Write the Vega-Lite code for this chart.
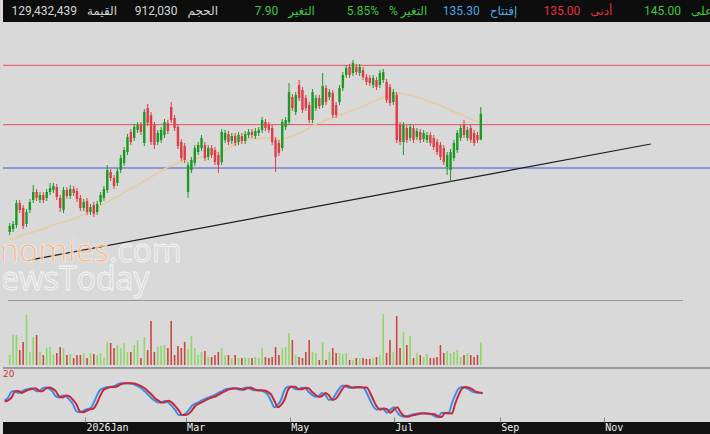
{
  "$schema": "https://vega.github.io/schema/vega-lite/v6.json",
  "background": "#d9d9d9",
  "padding": 0,
  "bounds": "flush",
  "spacing": 0,
  "config": {"view": {"stroke": null}, "axis": {"grid": false}},
  "datasets": {
    "hdr": [
      {"k": "1", "val": "129,432,439", "lab": "القيمة", "tone": "w"},
      {"k": "2", "val": "912,030", "lab": "الحجم", "tone": "w"},
      {"k": "3", "val": "7.90", "lab": "التغير", "tone": "g"},
      {"k": "4", "val": "5.85%", "lab": "% التغير", "tone": "g"},
      {"k": "5", "val": "135.30", "lab": "إفتتاح", "tone": "b"},
      {"k": "6", "val": "135.00", "lab": "أدنى", "tone": "r"},
      {"k": "7", "val": "145.00", "lab": "أعلى", "tone": "g"}
    ],
    "lv": [{"p": 157.5, "t": "r"}, {"p": 139.7, "t": "r"}, {"p": 126.7, "t": "b"}],
    "tr": [{"d1": "2025-11-26", "p1": 99.0, "d2": "2026-12-01", "p2": 133.9}],
    "bars": [
      {"d":"2025-11-15","o":107.5,"h":110.2,"l":106.6,"c":109.3,"v":400000,"ma":105.1,"k":48,"sd":45},
      {"d":"2025-11-17","o":108.4,"h":110.8,"l":107.5,"c":109.9,"v":1200000,"ma":105.4,"k":55,"sd":48},
      {"d":"2025-11-19","o":109.6,"h":117.1,"l":108.7,"c":116.2,"v":1200000,"ma":105.7,"k":70,"sd":55},
      {"d":"2025-11-21","o":116.2,"h":117.1,"l":113.2,"c":114.1,"v":600000,"ma":106.3,"k":72,"sd":70},
      {"d":"2025-11-23","o":114.7,"h":115.6,"l":108.4,"c":109.3,"v":920000,"ma":106.6,"k":67,"sd":72},
      {"d":"2025-11-25","o":109.9,"h":114.4,"l":109.0,"c":113.5,"v":2000000,"ma":106.9,"k":71,"sd":67},
      {"d":"2025-11-27","o":114.1,"h":117.4,"l":113.2,"c":116.5,"v":520000,"ma":107.2,"k":75,"sd":71},
      {"d":"2025-11-29","o":117.1,"h":121.6,"l":116.2,"c":119.5,"v":1120000,"ma":107.5,"k":77,"sd":75},
      {"d":"2025-12-01","o":119.5,"h":120.4,"l":116.8,"c":117.7,"v":1200000,"ma":107.8,"k":79,"sd":77},
      {"d":"2025-12-03","o":117.1,"h":119.5,"l":116.2,"c":118.6,"v":520000,"ma":108.1,"k":73,"sd":79},
      {"d":"2025-12-05","o":118.6,"h":119.5,"l":116.2,"c":117.1,"v":400000,"ma":108.4,"k":71,"sd":73},
      {"d":"2025-12-07","o":117.7,"h":120.4,"l":116.8,"c":119.5,"v":680000,"ma":108.7,"k":78,"sd":71},
      {"d":"2025-12-09","o":119.5,"h":122.2,"l":118.6,"c":120.7,"v":720000,"ma":109.3,"k":81,"sd":78},
      {"d":"2025-12-11","o":120.1,"h":122.2,"l":119.2,"c":121.3,"v":400000,"ma":109.6,"k":78,"sd":81},
      {"d":"2025-12-13","o":121.0,"h":121.9,"l":117.1,"c":118.0,"v":480000,"ma":109.9,"k":71,"sd":78},
      {"d":"2025-12-15","o":117.7,"h":118.6,"l":113.5,"c":114.7,"v":720000,"ma":110.2,"k":58,"sd":71},
      {"d":"2025-12-17","o":114.1,"h":121.0,"l":113.2,"c":120.1,"v":680000,"ma":110.5,"k":55,"sd":58},
      {"d":"2025-12-19","o":120.1,"h":121.0,"l":117.4,"c":118.3,"v":400000,"ma":110.8,"k":60,"sd":55},
      {"d":"2025-12-21","o":118.3,"h":121.6,"l":117.4,"c":120.4,"v":440000,"ma":111.0,"k":58,"sd":60},
      {"d":"2025-12-23","o":120.4,"h":121.3,"l":118.3,"c":119.2,"v":280000,"ma":111.4,"k":49,"sd":58},
      {"d":"2025-12-25","o":119.8,"h":120.7,"l":116.5,"c":117.4,"v":400000,"ma":111.7,"k":38,"sd":49},
      {"d":"2025-12-27","o":117.7,"h":118.6,"l":113.8,"c":114.7,"v":400000,"ma":112.3,"k":20,"sd":38},
      {"d":"2025-12-29","o":114.7,"h":117.4,"l":113.8,"c":116.5,"v":480000,"ma":112.6,"k":17,"sd":20},
      {"d":"2025-12-31","o":116.8,"h":117.7,"l":112.6,"c":113.5,"v":280000,"ma":113.2,"k":21,"sd":17},
      {"d":"2026-01-02","o":113.5,"h":115.9,"l":112.6,"c":115.0,"v":480000,"ma":113.8,"k":25,"sd":21},
      {"d":"2026-01-04","o":115.6,"h":116.5,"l":112.0,"c":112.9,"v":440000,"ma":114.1,"k":27,"sd":25},
      {"d":"2026-01-06","o":113.5,"h":116.8,"l":112.6,"c":115.9,"v":400000,"ma":114.7,"k":40,"sd":27},
      {"d":"2026-01-08","o":116.5,"h":119.5,"l":115.6,"c":118.6,"v":480000,"ma":115.3,"k":60,"sd":40},
      {"d":"2026-01-10","o":117.7,"h":121.3,"l":116.8,"c":120.4,"v":280000,"ma":115.9,"k":75,"sd":60},
      {"d":"2026-01-12","o":120.1,"h":127.6,"l":119.2,"c":126.1,"v":920000,"ma":116.5,"k":79,"sd":75},
      {"d":"2026-01-14","o":125.5,"h":126.4,"l":122.8,"c":123.7,"v":880000,"ma":117.1,"k":82,"sd":79},
      {"d":"2026-01-16","o":123.7,"h":124.6,"l":120.4,"c":121.3,"v":680000,"ma":117.7,"k":82,"sd":82},
      {"d":"2026-01-18","o":122.2,"h":126.7,"l":121.3,"c":125.8,"v":800000,"ma":118.0,"k":84,"sd":82},
      {"d":"2026-01-20","o":126.1,"h":130.6,"l":125.2,"c":129.7,"v":680000,"ma":118.6,"k":89,"sd":84},
      {"d":"2026-01-22","o":128.2,"h":133.0,"l":127.3,"c":132.1,"v":880000,"ma":119.5,"k":92,"sd":89},
      {"d":"2026-01-24","o":131.5,"h":136.9,"l":130.6,"c":136.0,"v":520000,"ma":120.1,"k":92,"sd":92},
      {"d":"2026-01-26","o":137.5,"h":138.4,"l":133.6,"c":134.5,"v":520000,"ma":120.4,"k":92,"sd":92},
      {"d":"2026-01-28","o":135.7,"h":139.9,"l":134.8,"c":139.0,"v":800000,"ma":121.0,"k":91,"sd":92},
      {"d":"2026-01-30","o":138.1,"h":140.5,"l":137.2,"c":139.6,"v":1000000,"ma":121.3,"k":88,"sd":91},
      {"d":"2026-02-01","o":139.6,"h":140.5,"l":136.6,"c":137.5,"v":280000,"ma":122.2,"k":84,"sd":88},
      {"d":"2026-02-03","o":134.2,"h":144.4,"l":133.3,"c":143.5,"v":1120000,"ma":122.8,"k":79,"sd":84},
      {"d":"2026-02-05","o":144.7,"h":145.9,"l":139.3,"c":140.2,"v":600000,"ma":123.4,"k":71,"sd":79},
      {"d":"2026-02-07","o":142.6,"h":143.5,"l":133.6,"c":134.5,"v":1760000,"ma":124.0,"k":63,"sd":71},
      {"d":"2026-02-09","o":139.6,"h":140.5,"l":132.4,"c":133.6,"v":520000,"ma":124.6,"k":53,"sd":63},
      {"d":"2026-02-11","o":134.5,"h":138.1,"l":133.6,"c":137.2,"v":720000,"ma":125.2,"k":47,"sd":53},
      {"d":"2026-02-13","o":135.1,"h":139.0,"l":134.2,"c":138.1,"v":760000,"ma":125.8,"k":42,"sd":47},
      {"d":"2026-02-15","o":136.6,"h":141.4,"l":135.7,"c":140.5,"v":800000,"ma":126.4,"k":43,"sd":42},
      {"d":"2026-02-17","o":140.2,"h":141.1,"l":136.9,"c":137.8,"v":680000,"ma":127.0,"k":47,"sd":43},
      {"d":"2026-02-19","o":145.0,"h":146.5,"l":140.2,"c":141.1,"v":1760000,"ma":127.3,"k":42,"sd":47},
      {"d":"2026-02-21","o":141.7,"h":142.6,"l":137.8,"c":138.7,"v":400000,"ma":127.9,"k":33,"sd":42},
      {"d":"2026-02-23","o":139.0,"h":139.9,"l":132.4,"c":133.3,"v":760000,"ma":128.2,"k":22,"sd":33},
      {"d":"2026-02-25","o":134.5,"h":135.4,"l":128.8,"c":129.7,"v":680000,"ma":128.5,"k":10,"sd":22},
      {"d":"2026-02-27","o":133.3,"h":134.2,"l":128.2,"c":129.1,"v":920000,"ma":128.8,"k":10,"sd":10},
      {"d":"2026-03-01","o":119.5,"h":128.5,"l":117.7,"c":127.6,"v":640000,"ma":129.1,"k":14,"sd":10},
      {"d":"2026-03-03","o":126.1,"h":130.0,"l":125.2,"c":129.1,"v":1160000,"ma":129.1,"k":24,"sd":14},
      {"d":"2026-03-05","o":128.2,"h":133.6,"l":127.3,"c":132.7,"v":680000,"ma":129.4,"k":35,"sd":24},
      {"d":"2026-03-07","o":131.5,"h":134.5,"l":130.6,"c":133.6,"v":400000,"ma":129.7,"k":40,"sd":35},
      {"d":"2026-03-09","o":132.7,"h":136.6,"l":131.8,"c":135.7,"v":520000,"ma":129.9,"k":44,"sd":40},
      {"d":"2026-03-11","o":133.6,"h":134.5,"l":128.8,"c":129.7,"v":560000,"ma":130.0,"k":49,"sd":44},
      {"d":"2026-03-13","o":130.0,"h":133.6,"l":129.1,"c":132.7,"v":320000,"ma":130.3,"k":53,"sd":49},
      {"d":"2026-03-15","o":132.7,"h":133.6,"l":129.7,"c":130.6,"v":320000,"ma":130.6,"k":56,"sd":53},
      {"d":"2026-03-17","o":132.1,"h":133.0,"l":127.6,"c":128.5,"v":400000,"ma":130.9,"k":59,"sd":56},
      {"d":"2026-03-19","o":130.6,"h":131.5,"l":125.2,"c":127.6,"v":520000,"ma":131.2,"k":64,"sd":59},
      {"d":"2026-03-21","o":128.5,"h":138.4,"l":127.6,"c":137.5,"v":680000,"ma":131.8,"k":69,"sd":64},
      {"d":"2026-03-23","o":135.1,"h":138.1,"l":134.2,"c":137.2,"v":400000,"ma":132.1,"k":73,"sd":69},
      {"d":"2026-03-25","o":136.9,"h":137.8,"l":133.6,"c":134.5,"v":400000,"ma":132.7,"k":77,"sd":73},
      {"d":"2026-03-27","o":134.8,"h":137.2,"l":133.9,"c":136.3,"v":280000,"ma":133.3,"k":78,"sd":77},
      {"d":"2026-03-29","o":136.3,"h":137.2,"l":133.3,"c":134.2,"v":400000,"ma":133.9,"k":79,"sd":78},
      {"d":"2026-03-31","o":134.5,"h":137.5,"l":133.6,"c":136.6,"v":280000,"ma":134.2,"k":77,"sd":79},
      {"d":"2026-04-02","o":136.3,"h":137.2,"l":133.9,"c":134.8,"v":280000,"ma":134.8,"k":75,"sd":77},
      {"d":"2026-04-04","o":134.8,"h":137.8,"l":133.9,"c":136.9,"v":320000,"ma":135.1,"k":79,"sd":75},
      {"d":"2026-04-06","o":136.6,"h":138.4,"l":135.7,"c":137.5,"v":280000,"ma":135.3,"k":81,"sd":79},
      {"d":"2026-04-08","o":137.5,"h":138.4,"l":135.7,"c":136.6,"v":280000,"ma":135.4,"k":77,"sd":81},
      {"d":"2026-04-10","o":136.3,"h":138.7,"l":135.4,"c":137.8,"v":320000,"ma":135.4,"k":74,"sd":77},
      {"d":"2026-04-12","o":137.2,"h":139.0,"l":136.3,"c":138.1,"v":280000,"ma":135.5,"k":74,"sd":74},
      {"d":"2026-04-14","o":138.1,"h":142.0,"l":137.2,"c":141.1,"v":680000,"ma":135.7,"k":73,"sd":74},
      {"d":"2026-04-16","o":140.5,"h":141.4,"l":137.8,"c":138.7,"v":320000,"ma":135.7,"k":70,"sd":73},
      {"d":"2026-04-18","o":139.6,"h":140.5,"l":137.2,"c":138.1,"v":280000,"ma":135.7,"k":63,"sd":70},
      {"d":"2026-04-20","o":138.7,"h":139.6,"l":133.6,"c":134.5,"v":320000,"ma":135.5,"k":47,"sd":63},
      {"d":"2026-04-22","o":135.1,"h":136.0,"l":125.5,"c":130.0,"v":720000,"ma":135.4,"k":30,"sd":47},
      {"d":"2026-04-24","o":134.2,"h":135.1,"l":130.3,"c":131.2,"v":400000,"ma":135.4,"k":36,"sd":30},
      {"d":"2026-04-26","o":132.7,"h":141.4,"l":131.8,"c":140.5,"v":680000,"ma":135.5,"k":50,"sd":36},
      {"d":"2026-04-28","o":139.0,"h":142.0,"l":138.1,"c":141.1,"v":720000,"ma":135.7,"k":75,"sd":50},
      {"d":"2026-04-30","o":140.5,"h":152.2,"l":139.6,"c":149.5,"v":1280000,"ma":135.9,"k":83,"sd":75},
      {"d":"2026-05-02","o":148.0,"h":148.9,"l":143.8,"c":144.7,"v":1000000,"ma":136.3,"k":83,"sd":83},
      {"d":"2026-05-04","o":143.5,"h":149.5,"l":142.6,"c":148.6,"v":400000,"ma":136.6,"k":77,"sd":83},
      {"d":"2026-05-06","o":151.6,"h":153.1,"l":146.8,"c":147.7,"v":320000,"ma":137.2,"k":76,"sd":77},
      {"d":"2026-05-08","o":150.1,"h":151.0,"l":143.2,"c":144.1,"v":280000,"ma":137.5,"k":80,"sd":76},
      {"d":"2026-05-10","o":147.7,"h":148.6,"l":143.8,"c":144.7,"v":520000,"ma":138.1,"k":79,"sd":80},
      {"d":"2026-05-12","o":145.6,"h":146.5,"l":140.2,"c":141.1,"v":1000000,"ma":138.7,"k":70,"sd":79},
      {"d":"2026-05-14","o":141.1,"h":150.4,"l":140.2,"c":149.5,"v":520000,"ma":139.3,"k":62,"sd":70},
      {"d":"2026-05-16","o":144.7,"h":148.6,"l":143.8,"c":147.7,"v":480000,"ma":139.9,"k":57,"sd":62},
      {"d":"2026-05-18","o":147.7,"h":148.6,"l":144.4,"c":145.3,"v":200000,"ma":140.2,"k":59,"sd":57},
      {"d":"2026-05-20","o":145.6,"h":155.2,"l":144.7,"c":151.3,"v":920000,"ma":140.6,"k":67,"sd":59},
      {"d":"2026-05-22","o":150.7,"h":151.6,"l":145.6,"c":146.5,"v":200000,"ma":141.1,"k":61,"sd":67},
      {"d":"2026-05-24","o":148.0,"h":150.4,"l":147.1,"c":149.5,"v":520000,"ma":141.4,"k":49,"sd":61},
      {"d":"2026-05-26","o":149.2,"h":150.1,"l":141.7,"c":142.6,"v":680000,"ma":141.7,"k":52,"sd":49},
      {"d":"2026-05-28","o":145.6,"h":146.5,"l":141.7,"c":142.6,"v":480000,"ma":142.1,"k":64,"sd":52},
      {"d":"2026-05-30","o":146.5,"h":151.6,"l":145.6,"c":150.7,"v":480000,"ma":142.6,"k":78,"sd":64},
      {"d":"2026-06-01","o":150.7,"h":155.5,"l":149.8,"c":154.6,"v":440000,"ma":142.9,"k":86,"sd":78},
      {"d":"2026-06-03","o":154.6,"h":157.6,"l":153.7,"c":156.7,"v":480000,"ma":143.2,"k":83,"sd":86},
      {"d":"2026-06-05","o":157.0,"h":157.9,"l":153.7,"c":154.6,"v":200000,"ma":143.8,"k":80,"sd":83},
      {"d":"2026-06-07","o":155.2,"h":159.1,"l":154.3,"c":158.2,"v":200000,"ma":144.1,"k":81,"sd":80},
      {"d":"2026-06-09","o":157.0,"h":157.9,"l":154.6,"c":155.5,"v":280000,"ma":144.4,"k":82,"sd":81},
      {"d":"2026-06-11","o":155.2,"h":157.9,"l":154.3,"c":157.0,"v":280000,"ma":144.7,"k":81,"sd":82},
      {"d":"2026-06-13","o":156.1,"h":157.0,"l":153.1,"c":154.0,"v":280000,"ma":145.2,"k":81,"sd":81},
      {"d":"2026-06-15","o":154.0,"h":154.9,"l":151.6,"c":152.5,"v":240000,"ma":145.6,"k":68,"sd":81},
      {"d":"2026-06-17","o":153.7,"h":154.6,"l":151.3,"c":152.2,"v":240000,"ma":146.2,"k":49,"sd":68},
      {"d":"2026-06-19","o":151.6,"h":154.6,"l":150.7,"c":153.7,"v":280000,"ma":146.7,"k":32,"sd":49},
      {"d":"2026-06-21","o":153.1,"h":154.0,"l":150.1,"c":151.0,"v":320000,"ma":147.1,"k":24,"sd":32},
      {"d":"2026-06-23","o":151.6,"h":156.1,"l":150.7,"c":155.2,"v":400000,"ma":147.5,"k":27,"sd":24},
      {"d":"2026-06-25","o":153.1,"h":156.4,"l":152.2,"c":155.5,"v":2040000,"ma":148.0,"k":25,"sd":27},
      {"d":"2026-06-27","o":152.5,"h":153.4,"l":146.2,"c":147.1,"v":480000,"ma":148.3,"k":16,"sd":25},
      {"d":"2026-06-29","o":151.0,"h":151.9,"l":145.3,"c":146.2,"v":1000000,"ma":148.6,"k":24,"sd":16},
      {"d":"2026-07-01","o":146.5,"h":150.4,"l":145.6,"c":149.5,"v":520000,"ma":148.9,"k":30,"sd":24},
      {"d":"2026-07-03","o":148.6,"h":149.5,"l":134.2,"c":135.1,"v":1960000,"ma":149.0,"k":17,"sd":30},
      {"d":"2026-07-05","o":139.6,"h":140.5,"l":133.6,"c":134.5,"v":680000,"ma":149.0,"k":8,"sd":17},
      {"d":"2026-07-07","o":134.5,"h":140.5,"l":130.6,"c":139.6,"v":1320000,"ma":148.9,"k":6,"sd":8},
      {"d":"2026-07-09","o":138.7,"h":139.6,"l":134.2,"c":135.1,"v":800000,"ma":148.6,"k":8,"sd":6},
      {"d":"2026-07-11","o":135.7,"h":139.9,"l":134.8,"c":139.0,"v":1160000,"ma":148.5,"k":10,"sd":8},
      {"d":"2026-07-13","o":138.7,"h":139.6,"l":134.2,"c":135.1,"v":280000,"ma":148.3,"k":12,"sd":10},
      {"d":"2026-07-15","o":136.0,"h":138.7,"l":135.1,"c":137.8,"v":480000,"ma":147.9,"k":14,"sd":12},
      {"d":"2026-07-17","o":137.5,"h":138.4,"l":134.2,"c":135.1,"v":400000,"ma":147.7,"k":15,"sd":14},
      {"d":"2026-07-19","o":135.4,"h":138.1,"l":134.5,"c":137.2,"v":320000,"ma":147.3,"k":14,"sd":15},
      {"d":"2026-07-21","o":135.1,"h":137.5,"l":134.2,"c":136.6,"v":440000,"ma":146.8,"k":13,"sd":14},
      {"d":"2026-07-23","o":136.6,"h":137.5,"l":133.3,"c":134.2,"v":280000,"ma":146.5,"k":12,"sd":13},
      {"d":"2026-07-25","o":135.7,"h":136.6,"l":132.1,"c":133.0,"v":280000,"ma":146.2,"k":7,"sd":12},
      {"d":"2026-07-27","o":134.5,"h":135.4,"l":130.6,"c":131.5,"v":320000,"ma":145.9,"k":5,"sd":7},
      {"d":"2026-07-29","o":133.6,"h":134.5,"l":129.1,"c":130.0,"v":800000,"ma":145.5,"k":16,"sd":5},
      {"d":"2026-07-31","o":132.7,"h":133.6,"l":127.6,"c":128.5,"v":480000,"ma":145.0,"k":15,"sd":16},
      {"d":"2026-08-02","o":127.0,"h":131.5,"l":124.6,"c":130.6,"v":560000,"ma":144.5,"k":14,"sd":15},
      {"d":"2026-08-04","o":126.1,"h":132.4,"l":122.5,"c":131.5,"v":480000,"ma":144.1,"k":40,"sd":14},
      {"d":"2026-08-06","o":129.7,"h":135.1,"l":128.8,"c":134.2,"v":520000,"ma":143.5,"k":62,"sd":40},
      {"d":"2026-08-08","o":132.1,"h":138.1,"l":131.2,"c":137.2,"v":600000,"ma":143.2,"k":78,"sd":62},
      {"d":"2026-08-10","o":135.7,"h":139.6,"l":134.8,"c":138.7,"v":320000,"ma":142.9,"k":82,"sd":78},
      {"d":"2026-08-12","o":139.6,"h":141.1,"l":135.7,"c":136.6,"v":400000,"ma":142.3,"k":80,"sd":82},
      {"d":"2026-08-14","o":135.7,"h":139.0,"l":134.8,"c":138.1,"v":480000,"ma":141.9,"k":76,"sd":80},
      {"d":"2026-08-16","o":138.7,"h":139.6,"l":134.2,"c":135.1,"v":400000,"ma":141.4,"k":70,"sd":76},
      {"d":"2026-08-18","o":137.2,"h":138.1,"l":133.3,"c":134.2,"v":320000,"ma":141.0,"k":68,"sd":70},
      {"d":"2026-08-20","o":136.6,"h":137.5,"l":134.2,"c":135.05,"v":400000,"ma":140.6,"k":67,"sd":68},
      {"d":"2026-08-22","o":135.3,"h":145.0,"l":135.0,"c":142.95,"v":912030,"ma":140.3,"k":66,"sd":67}
    ]
  },
  "vconcat": [
    {
      "width": 710,
      "height": 22,
      "view": {"fill": "#0d0d0d", "stroke": null},
      "data": {"name": "hdr"},
      "encoding": {
        "x": {"field": "k", "type": "ordinal", "sort": null, "scale": {"type": "point", "padding": 0.526, "align": 0.745}, "axis": null},
        "color": {"field": "tone", "type": "nominal", "scale": {"domain": ["w", "g", "b", "r"], "range": ["#d4d4d4", "#3cc83c", "#4aa8e8", "#e8323a"]}, "legend": null}
      },
      "layer": [
        {"mark": {"type": "text", "align": "right", "dx": -5, "baseline": "middle", "font": "Roboto, DejaVu Sans", "fontSize": 12, "clip": true}, "encoding": {"text": {"field": "val"}}},
        {"mark": {"type": "text", "align": "left", "dx": 5, "baseline": "middle", "font": "Roboto, DejaVu Sans", "fontSize": 12, "clip": true}, "encoding": {"text": {"field": "lab"}}}
      ]
    },
    {
      "width": 710,
      "height": 278,
      "layer": [
        {
          "data": {"name": "lv"},
          "mark": {"type": "rule", "strokeWidth": 1},
          "encoding": {
            "y": {"field": "p", "type": "quantitative", "scale": {"domain": [87.1, 170.5], "nice": false, "zero": false}, "axis": null},
            "color": {"condition": {"test": "datum.t == 'b'", "value": "#4658d2"}, "value": "#e8505a"}
          }
        },
        {
          "data": {"name": "tr"},
          "mark": {"type": "rule", "color": "#1c1c1c", "strokeWidth": 1.2, "clip": true},
          "encoding": {
            "x": {"field": "d1", "type": "temporal", "scale": {"type": "utc", "nice": false, "domain": [{"year": 2025, "month": 11, "date": 14, "utc": true}, {"year": 2027, "month": 1, "date": 4, "utc": true}]}, "axis": null},
            "x2": {"field": "d2"},
            "y": {"field": "p1", "type": "quantitative"},
            "y2": {"field": "p2"}
          }
        },
        {
          "data": {"name": "bars"},
          "mark": {"type": "line", "color": "#e3cda2", "strokeWidth": 1.6},
          "encoding": {
            "x": {"field": "d", "type": "temporal"},
            "y": {"field": "ma", "type": "quantitative"}
          }
        },
        {
          "data": {"name": "bars"},
          "mark": {"type": "rule", "strokeWidth": 1},
          "encoding": {
            "x": {"field": "d", "type": "temporal"},
            "y": {"field": "l", "type": "quantitative"},
            "y2": {"field": "h"},
            "color": {"condition": {"test": "datum.c >= datum.o", "value": "#1a9a22"}, "value": "#de3c46"}
          }
        },
        {
          "data": {"name": "bars"},
          "mark": {"type": "bar", "size": 2.4},
          "encoding": {
            "x": {"field": "d", "type": "temporal"},
            "y": {"field": "o", "type": "quantitative"},
            "y2": {"field": "c"},
            "color": {"condition": {"test": "datum.c >= datum.o", "value": "#1a9a22"}, "value": "#de3c46"}
          }
        },
        {
          "data": {"values": [{"t": "Economies", "d": "2026-01-13", "p": 98.5}]},
          "mark": {"type": "text", "align": "right", "baseline": "alphabetic", "font": "Open Sans", "fontSize": 32, "fill": "#f5b88c", "stroke": "#f7f7f7", "strokeWidth": 0.6, "opacity": 0.9, "clip": true},
          "encoding": {"x": {"field": "d", "type": "temporal"}, "y": {"field": "p", "type": "quantitative"}, "text": {"field": "t"}}
        },
        {
          "data": {"values": [{"t": ".com", "d": "2026-01-13", "p": 98.5}]},
          "mark": {"type": "text", "align": "left", "baseline": "alphabetic", "font": "Open Sans", "fontSize": 32, "fill": "#d9d9d9", "stroke": "#f7f7f7", "strokeWidth": 0.8, "clip": true},
          "encoding": {"x": {"field": "d", "type": "temporal"}, "y": {"field": "p", "type": "quantitative"}, "text": {"field": "t"}}
        },
        {
          "data": {"values": [{"t": "NewsToday", "d": "2026-02-06", "p": 90.1}]},
          "mark": {"type": "text", "align": "right", "baseline": "alphabetic", "font": "Open Sans", "fontSize": 32, "fill": "#d9d9d9", "stroke": "#f7f7f7", "strokeWidth": 0.8, "clip": true},
          "encoding": {"x": {"field": "d", "type": "temporal"}, "y": {"field": "p", "type": "quantitative"}, "text": {"field": "t"}}
        }
      ]
    },
    {
      "width": 710,
      "height": 68,
      "data": {"name": "bars"},
      "layer": [
        {
          "mark": {"type": "bar", "size": 1.6},
          "encoding": {
            "x": {"field": "d", "type": "temporal", "scale": {"type": "utc", "nice": false, "domain": [{"year": 2025, "month": 11, "date": 14, "utc": true}, {"year": 2027, "month": 1, "date": 4, "utc": true}]}, "axis": null},
            "y": {"field": "v", "type": "quantitative", "scale": {"domain": [-120000, 2600000], "nice": false, "zero": false}, "axis": null},
            "color": {"condition": {"test": "datum.c >= datum.o", "value": "#8ed766"}, "value": "#c9473f"}
          }
        },
        {
          "mark": {"type": "rule", "color": "#9a9a9a", "strokeWidth": 1},
          "encoding": {
            "x": {"datum": {"year": 2025, "month": 11, "date": 14, "utc": true}, "type": "temporal"},
            "x2": {"datum": {"year": 2026, "month": 12, "date": 20, "utc": true}},
            "y": {"datum": 2580000, "type": "quantitative"}
          }
        },
        {
          "mark": {"type": "rule", "color": "#9a9a9a", "strokeWidth": 1},
          "encoding": {"y": {"datum": -110000, "type": "quantitative"}}
        }
      ]
    },
    {
      "width": 710,
      "height": 54,
      "layer": [
        {
          "data": {"name": "bars"},
          "mark": {"type": "line", "color": "#3d8fe6", "strokeWidth": 2, "interpolate": "monotone"},
          "encoding": {
            "x": {"field": "d", "type": "temporal", "scale": {"type": "utc", "nice": false, "domain": [{"year": 2025, "month": 11, "date": 14, "utc": true}, {"year": 2027, "month": 1, "date": 4, "utc": true}]}, "axis": null},
            "y": {"field": "k", "type": "quantitative", "scale": {"domain": [-7.7, 130.8], "nice": false, "zero": false}, "axis": null}
          }
        },
        {
          "data": {"name": "bars"},
          "mark": {"type": "line", "color": "#c8283a", "strokeWidth": 2, "interpolate": "monotone"},
          "encoding": {
            "x": {"field": "d", "type": "temporal"},
            "y": {"field": "sd", "type": "quantitative"}
          }
        },
        {
          "data": {"values": [{"t": "20", "d": "2025-11-14", "p": 125}]},
          "mark": {"type": "text", "align": "left", "baseline": "top", "color": "#d03030", "fontSize": 9, "font": "DejaVu Sans"},
          "encoding": {"x": {"field": "d", "type": "temporal"}, "y": {"field": "p", "type": "quantitative"}, "text": {"field": "t"}}
        }
      ]
    },
    {
      "width": 710,
      "height": 12,
      "view": {"fill": "#111111", "stroke": null},
      "data": {"name": "bars"},
      "mark": {"type": "tick", "opacity": 0},
      "encoding": {
        "x": {
          "field": "d",
          "type": "temporal",
          "scale": {"type": "utc", "nice": false, "domain": [{"year": 2025, "month": 11, "date": 14, "utc": true}, {"year": 2027, "month": 1, "date": 4, "utc": true}]},
          "axis": {
            "orient": "top",
            "title": null,
            "domain": false,
            "grid": false,
            "values": [
              {"year": 2026, "month": 1, "date": 1, "utc": true},
              {"year": 2026, "month": 3, "date": 1, "utc": true},
              {"year": 2026, "month": 5, "date": 1, "utc": true},
              {"year": 2026, "month": 7, "date": 1, "utc": true},
              {"year": 2026, "month": 9, "date": 1, "utc": true},
              {"year": 2026, "month": 11, "date": 1, "utc": true}
            ],
            "labelExpr": "utcmonth(datum.value) == 0 ? utcFormat(datum.value, '%Y%b') : utcFormat(datum.value, '%b')",
            "tickSize": 5,
            "tickColor": "#8a8a8a",
            "labelPadding": -15,
            "labelAlign": "left",
            "labelOffset": 1,
            "labelColor": "#eeeeee",
            "labelFont": "DejaVu Sans Mono",
            "labelFontSize": 10,
            "labelOverlap": false,
            "labelFlush": false
          }
        }
      }
    }
  ]
}
